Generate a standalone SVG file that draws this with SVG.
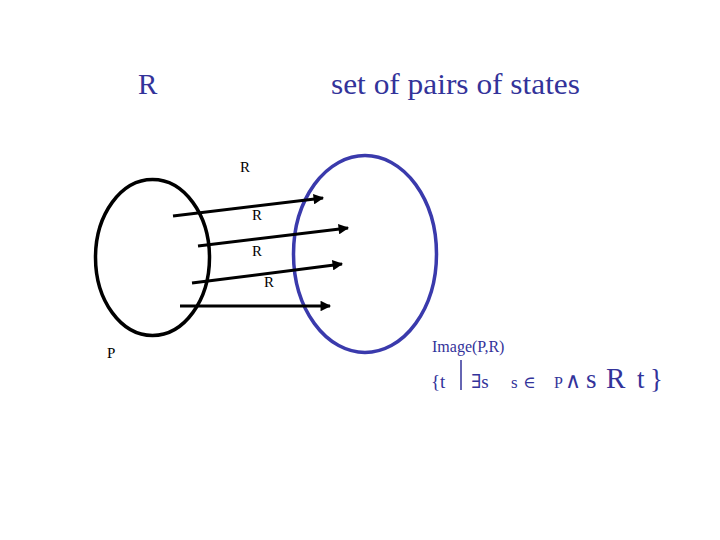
<svg xmlns="http://www.w3.org/2000/svg" width="720" height="540" viewBox="0 0 720 540">
<style>
.t{font-family:"Liberation Serif","DejaVu Serif",serif;fill:#33339a}
.k{font-family:"Liberation Serif","DejaVu Serif",serif;fill:#000;font-size:15px}
.arr{stroke:#000;stroke-width:3;fill:none;marker-end:url(#ah)}
</style>
<defs>
<marker id="ah" viewBox="0 0 10 10" refX="9" refY="5" markerWidth="4" markerHeight="3.5" orient="auto" markerUnits="strokeWidth">
<path d="M0,0 L10,5 L0,10 Z" fill="#000"/>
</marker>
</defs>
<rect width="720" height="540" fill="#fff"/>
<g id="title">
<text class="t" x="138" y="94" font-size="29">R</text>
<text class="t" x="331" y="94" font-size="29" textLength="249" lengthAdjust="spacingAndGlyphs">set of pairs of states</text>
</g>
<g id="setP">
<ellipse cx="152.5" cy="257.5" rx="57" ry="78" fill="none" stroke="#000" stroke-width="3.5"/>
<text class="k" x="107" y="358">P</text>
</g>
<g id="image">
<ellipse cx="365" cy="254" rx="71.5" ry="98.5" fill="none" stroke="#3a3aac" stroke-width="3.5"/>
</g>
<g id="connectors">
<line class="arr" x1="173" y1="216" x2="323" y2="198"/>
<line class="arr" x1="198" y1="246" x2="348" y2="228"/>
<line class="arr" x1="192" y1="283" x2="342" y2="264"/>
<line class="arr" x1="180" y1="306" x2="330" y2="306"/>
<text class="k" x="240" y="172">R</text>
<text class="k" x="252" y="220">R</text>
<text class="k" x="252" y="256">R</text>
<text class="k" x="264" y="287">R</text>
</g>
<g id="formula">
<text class="t" x="432" y="352" font-size="16">Image(P,R)</text>
<text class="t" x="431" y="388" font-size="19">{t</text>
<line x1="461" y1="360" x2="461" y2="390" stroke="#33339a" stroke-width="1.5"/>
<text class="t" x="471" y="388" font-size="19">∃s</text>
<text class="t" x="511" y="388" font-size="17">s</text>
<text class="t" x="523" y="388" font-size="17">∈</text>
<text class="t" x="554" y="388" font-size="16">P</text>
<text class="t" x="565" y="388" font-size="22">∧</text>
<text class="t" x="586" y="388" font-size="27">s</text>
<text class="t" x="606" y="388" font-size="29">R</text>
<text class="t" x="637" y="388" font-size="27">t</text>
<text class="t" x="650" y="388" font-size="27">}</text>
</g>
</svg>
